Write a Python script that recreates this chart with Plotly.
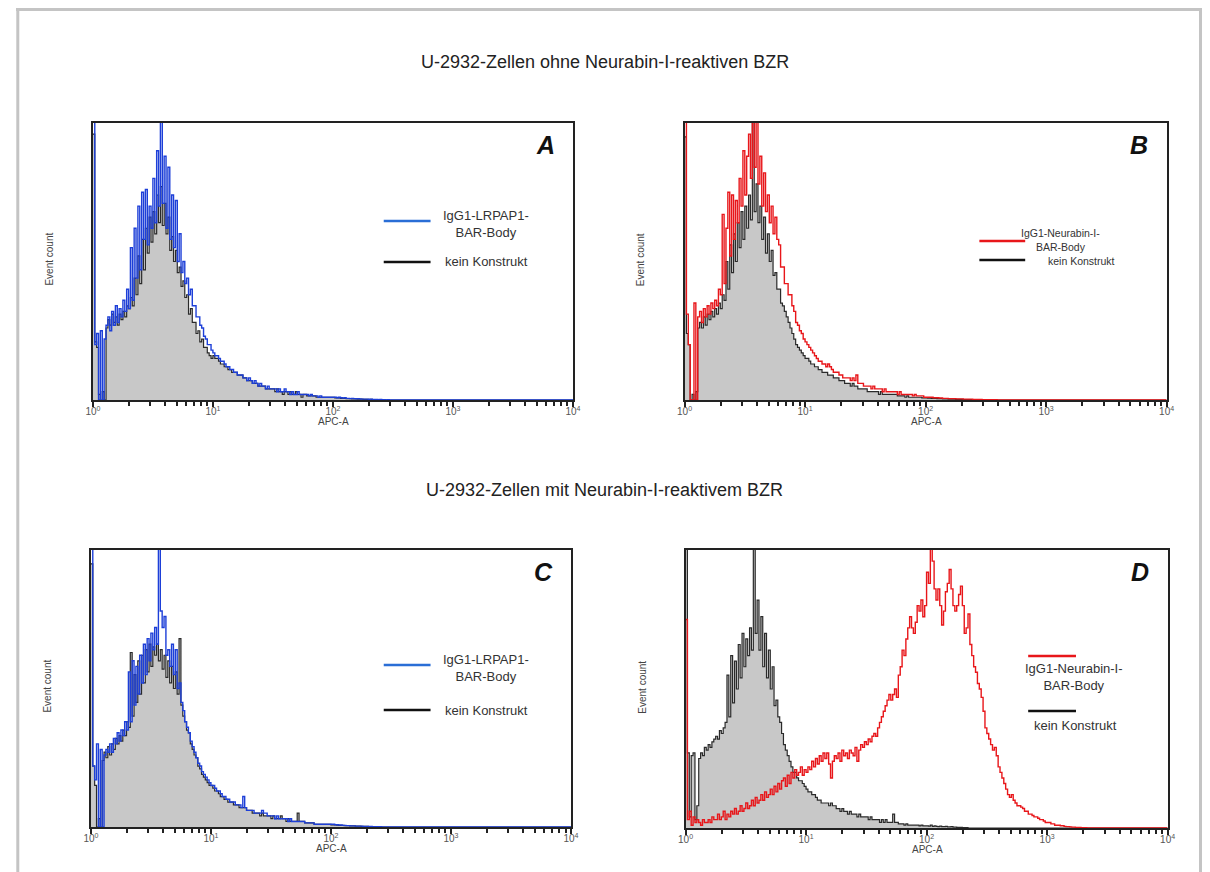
import numpy as np
import plotly.graph_objects as go

# counts per channel (64 channels per decade), in % of the panel height
a_ctrl = [96, 21, 19, 2, 0, 3, 0, 26, 29, 27, 31, 28, 30, 27, 31, 29,
          32, 30, 34, 33, 37, 34, 44, 38, 52, 42, 58, 47, 62, 53, 66, 57,
          68, 60, 74, 64, 77, 63, 71, 60, 66, 54, 59, 50, 54, 46, 48, 41,
          43, 37, 38, 31, 33, 28, 28, 24, 25, 21, 22, 19, 19, 17, 16, 15,
          16, 15, 15, 14, 13, 13, 12, 12, 11, 11, 10, 10, 10, 9, 9, 9,
          8, 8, 7, 7, 7, 6, 6, 6, 5, 5, 5, 5, 4, 4, 4, 4,
          4, 3, 4, 3, 3, 2, 3, 3, 2, 3, 2, 2, 3, 2, 2, 1,
          2, 2, 1.5, 1.5, 1.5, 1.5, 1.5, 1, 1, 1, 1, 1, 1, 1, 1, 1,
          1, 0.8, 0.8, 0.8, 0.6, 0.6, 0.6, 0.5, 0.5, 0.5, 0.4, 0.4, 0.4, 0.3, 0.3, 0.3,
          0.2, 0.2, 0.2, 0.2, 0.2, 0.1, 0.1, 0.1, 0.1, 0.1, 0.1, 0, 0, 0, 0, 0]
a_lrpap1 = [150, 20, 24, 0, 25, 0, 22, 27, 30, 25, 32, 27, 34, 28, 33, 30,
            36, 32, 40, 33, 55, 36, 62, 44, 70, 47, 75, 58, 76, 56, 70, 62,
            80, 64, 90, 70, 106, 71, 88, 62, 84, 58, 74, 55, 72, 50, 60, 46,
            50, 42, 44, 38, 40, 34, 34, 30, 30, 27, 26, 23, 22, 20, 20, 18,
            17, 16, 16, 15, 14, 14, 13, 12, 12, 11, 11, 10, 10, 9, 9, 9,
            8, 8, 7, 8, 7, 6, 7, 6, 5, 6, 5, 5, 4, 5, 4, 4,
            4, 4, 3, 4, 3, 3, 4, 3, 3, 2, 3, 2, 2, 3, 2, 2,
            2, 2, 2, 1.5, 2, 1.5, 1.5, 1.5, 1, 1.5, 1, 1, 1, 1, 1, 1,
            1, 1, 0.8, 1, 0.8, 0.7, 0.8, 0.6, 0.6, 0.5, 0.6, 0.5, 0.4, 0.5, 0.4, 0.3,
            0.3, 0.3, 0.3, 0.2, 0.3, 0.2, 0.2, 0.2, 0.1, 0.2, 0.1, 0.1, 0, 0.1, 0, 0]

b_ctrl = [95, 24, 20, 0, 2, 0, 3, 26, 28, 26, 30, 27, 31, 29, 32, 30,
          33, 31, 35, 33, 38, 36, 50, 40, 56, 46, 60, 50, 64, 55, 68, 58,
          70, 62, 74, 65, 102, 68, 78, 64, 70, 58, 66, 53, 60, 50, 54, 45,
          46, 40, 40, 35, 34, 32, 30, 28, 26, 24, 22, 20, 19, 18, 17, 16,
          15, 15, 14, 13, 13, 12, 12, 11, 11, 10, 10, 10, 9, 9, 9, 8,
          8, 8, 7, 7, 7, 6, 6, 6, 5, 6, 5, 5, 4, 4, 4, 4,
          4, 3, 3, 3, 3, 3, 3, 2, 3, 2, 2, 2, 2, 2, 2, 2,
          2, 1.5, 1.5, 1.5, 1.5, 1, 1.5, 1, 1, 1, 1, 1, 1, 1, 0.8, 0.8,
          0.8, 0.7, 0.7, 0.6, 0.6, 0.6, 0.5, 0.5, 0.5, 0.4, 0.4, 0.4, 0.3, 0.3, 0.3, 0.3,
          0.2, 0.2, 0.2, 0.2, 0.1, 0.1, 0.1, 0.1, 0.1, 0, 0, 0, 0, 0, 0, 0]
b_neurabin = [150, 31, 20, 0, 0, 35, 0, 30, 32, 28, 33, 30, 34, 31, 35, 33,
              36, 34, 40, 38, 67, 42, 62, 75, 52, 74, 58, 72, 64, 80, 70, 90,
              74, 88, 96, 80, 110, 84, 105, 78, 88, 70, 82, 68, 74, 64, 70, 60,
              66, 58, 56, 48, 48, 42, 42, 38, 38, 34, 32, 28, 27, 25, 24, 22,
              21, 20, 19, 18, 17, 16, 15, 14, 14, 13, 13, 12, 13, 12, 11, 10,
              10, 10, 9, 9, 8, 8, 8, 8, 7, 8, 7, 9, 6, 6, 6, 5,
              5, 5, 5, 4, 5, 4, 4, 4, 4, 3, 4, 3, 3, 3, 3, 3,
              3, 2, 3, 2, 2, 2, 2, 2, 2, 1.5, 2, 1.5, 1.5, 1.5, 1.5, 1,
              1, 1, 1, 1, 0.8, 0.8, 0.8, 0.7, 0.7, 0.6, 0.6, 0.6, 0.5, 0.5, 0.5, 0.5,
              0.4, 0.4, 0.4, 0.4, 0.3, 0.3, 0.3, 0.3, 0.3, 0.2, 0.2, 0.2, 0.2, 0.2, 0.1, 0.1,
              0.1, 0.1, 0.1, 0.1, 0.1, 0.1, 0, 0, 0, 0, 0, 0, 0, 0, 0, 0]

c_ctrl = [95, 22, 15, 0, 3, 0, 24, 27, 25, 29, 26, 30, 28, 32, 30, 33,
          31, 35, 33, 38, 36, 63, 40, 55, 45, 60, 48, 62, 52, 64, 56, 66,
          58, 65, 62, 66, 60, 64, 57, 62, 54, 60, 52, 58, 50, 56, 48, 68,
          44, 40, 38, 35, 34, 30, 28, 26, 25, 22, 21, 19, 18, 17, 16, 15,
          15, 14, 13, 13, 12, 11, 11, 10, 10, 9, 9, 9, 8, 8, 8, 7,
          7, 7, 7, 6, 6, 6, 5, 5, 5, 5, 4, 5, 4, 4, 4, 4,
          3, 4, 3, 3, 3, 4, 3, 3, 2, 3, 2, 2, 2, 2, 5, 2,
          2, 2, 1.5, 1.5, 1.5, 1.5, 1.5, 1, 1, 1, 1, 1, 1, 1, 1, 1,
          0.8, 0.8, 0.8, 0.7, 0.6, 0.6, 0.6, 0.5, 0.5, 0.5, 0.4, 0.4, 0.4, 0.3, 0.3, 0.3,
          0.2, 0.2, 0.2, 0.2, 0.1, 0.1, 0.1, 0.1, 0.1, 0, 0, 0, 0, 0, 0, 0]
c_lrpap1 = [150, 22, 17, 30, 0, 28, 0, 26, 28, 27, 30, 27, 32, 30, 34, 31,
            35, 33, 38, 35, 56, 38, 60, 44, 58, 48, 62, 52, 66, 55, 68, 60,
            70, 64, 72, 66, 106, 78, 72, 76, 62, 64, 58, 66, 55, 64, 50, 52,
            45, 42, 38, 36, 34, 31, 29, 27, 25, 23, 22, 20, 19, 18, 17, 16,
            15, 15, 14, 13, 13, 12, 11, 11, 10, 10, 9, 9, 9, 8, 8, 8,
            7, 11, 7, 6, 6, 6, 6, 5, 5, 5, 5, 6, 5, 5, 4, 4,
            4, 4, 3, 4, 3, 3, 3, 3, 3, 2, 3, 2, 2, 2, 2, 2,
            2, 2, 1.5, 1.5, 1.5, 1.5, 1.5, 1, 1, 1, 1, 1, 1, 1, 1, 1,
            1, 1, 0.8, 0.8, 0.7, 0.7, 0.6, 0.6, 0.5, 0.5, 0.4, 0.4, 0.4, 0.3, 0.3, 0.3,
            0.3, 0.2, 0.2, 0.2, 0.2, 0.2, 0.1, 0.1, 0.1, 0.1, 0.1, 0, 0, 0, 0, 0]

d_ctrl = [150, 27, 4, 26, 27, 3, 8, 25, 27, 26, 29, 28, 30, 29, 31, 32,
          33, 32, 35, 34, 36, 38, 55, 40, 62, 45, 60, 50, 66, 54, 70, 58,
          68, 62, 72, 64, 110, 70, 82, 64, 76, 58, 70, 54, 64, 50, 58, 44,
          46, 40, 38, 34, 30, 28, 26, 24, 22, 20, 20, 18, 17, 17, 16, 15,
          14, 13, 13, 12, 12, 11, 10, 10, 9, 9, 9, 9, 8, 9, 8, 8,
          7, 7, 6, 7, 6, 6, 5, 6, 5, 5, 5, 4, 5, 4, 4, 4,
          4, 3, 4, 3, 3, 3, 3, 2, 3, 2, 3, 2, 2, 2, 5, 2,
          2, 1.5, 1.5, 1.5, 1, 1.5, 1, 1, 1, 1, 1, 1, 0.8, 1, 0.8, 0.8,
          0.8, 0.7, 1, 0.6, 0.8, 0.6, 0.5, 0.7, 0.5, 0.5, 0.6, 0.4, 0.4, 0.5, 0.3, 0.3,
          0.2, 0.2, 0.2, 0.1, 0.1, 0.1, 0, 0, 0, 0, 0, 0, 0, 0, 0, 0]
d_neurabin = [75, 3, 6, 1, 4, 2, 3, 2, 1, 3, 2, 2, 3, 2, 4, 3,
              3, 5, 3, 4, 6, 3, 5, 4, 6, 5, 7, 5, 6, 8, 6, 7,
              9, 7, 8, 10, 8, 11, 9, 10, 12, 10, 13, 11, 12, 14, 12, 15,
              13, 16, 14, 17, 18, 15, 19, 16, 20, 18, 21, 19, 20, 22, 19, 21,
              20, 22, 21, 24, 22, 25, 23, 26, 24, 27, 25, 27, 23, 18, 24, 26,
              25, 27, 24, 28, 26, 27, 25, 28, 27, 26, 29, 24, 28, 30, 29, 31,
              30, 32, 31, 33, 34, 33, 36, 38, 40, 42, 44, 46, 48, 46, 48, 50,
              47, 55, 58, 64, 62, 68, 72, 76, 72, 70, 74, 80, 78, 82, 76, 80,
              92, 88, 110, 96, 86, 82, 86, 80, 73, 78, 85, 88, 93, 86, 80, 78,
              80, 84, 87, 80, 70, 72, 77, 66, 62, 58, 56, 52, 50, 47, 42, 36,
              34, 32, 30, 28, 29, 26, 22, 20, 18, 16, 14, 12, 11, 12, 10, 9,
              8, 8, 7.5, 7, 6, 6, 5, 5, 4.5, 4, 4, 3.5, 3, 3, 2.5, 2,
              2, 2, 1.5, 1.5, 1, 1, 1, 0.8, 0.8, 0.6, 0.5, 0.5, 0.4, 0.3, 0.3, 0.2,
              0.2, 0.2, 0.1, 0.1, 0.1, 0]

n_channels = 257
channels = np.arange(n_channels)
apc = 10 ** (channels / 64)

def pad(vals):
    return vals + [0] * (n_channels - len(vals))

W, H = 1210, 872
# the page puts the figure a bit in from the corner; map wanted screen px to paper
X_OFF, X_SCALE, Y_OFF = 13.8, 0.9907, 8
def px(x):
    return (x - X_OFF) / X_SCALE / W
def py(y):
    return 1 - (y - Y_OFF) / H

BLUE = '#1d3fd8'
RED = '#e8161a'
BLACK = '#2a2a2a'
GREY = '#c8c8c8'
FONT = 'Liberation Sans, Arial, sans-serif'

# panel boxes in pixels: left, right, top, bottom
# legend: line x0, x1, line y (test), line y (ctrl), text x, label y, kein y, font size
panels = [
    dict(name='A', box=(91, 573, 123, 400), ctrl=a_ctrl, test=a_lrpap1, color=BLUE,
         label='IgG1-LRPAP1-<br>BAR-Body', leg=(383, 430, 221, 262, 486, 224, 262, 13)),
    dict(name='B', box=(685, 1169, 123, 400), ctrl=b_ctrl, test=b_neurabin, color=RED,
         label='IgG1-Neurabin-I-<br>BAR-Body', leg=(981, 1027, 241, 260, 1062, 240, 261, 10.5)),
    dict(name='C', box=(89, 571, 550, 827), ctrl=c_ctrl, test=c_lrpap1, color=BLUE,
         label='IgG1-LRPAP1-<br>BAR-Body', leg=(383, 430, 665, 710, 486, 668, 710, 13)),
    dict(name='D', box=(686, 1170, 550, 828), ctrl=d_ctrl, test=d_neurabin, color=RED,
         label='IgG1-Neurabin-I-<br>BAR-Body', leg=(1030, 1078, 656, 711, 1076, 677, 725, 13)),
]

fig = go.Figure()
annotations = []
shapes = []
minor_vals = [m * 10 ** k for k in range(4) for m in range(2, 10)]

def note(x, y, text, size, color='#333', **kw):
    annotations.append(dict(x=px(x), y=py(y), xref='paper', yref='paper', text=text,
                            showarrow=False, xanchor='center', yanchor='middle',
                            font=dict(size=size, color=color, family=FONT), **kw))

for i, p in enumerate(panels):
    n = '' if i == 0 else str(i + 1)
    xa, ya = 'x' + n, 'y' + n
    left, right, top, bottom = p['box']
    ctrl = pad(p['ctrl'])
    test = pad(p['test'])
    fig.add_trace(go.Scatter(x=apc, y=ctrl, xaxis=xa, yaxis=ya, mode='lines', line_shape='hv',
                             fill='tozeroy', fillcolor=GREY, line=dict(color=BLACK, width=1.2),
                             showlegend=False, hoverinfo='skip'))
    fig.add_trace(go.Scatter(x=apc, y=test, xaxis=xa, yaxis=ya, mode='lines', line_shape='hv',
                             line=dict(color=p['color'], width=1.4),
                             showlegend=False, hoverinfo='skip'))

    fig.update_layout(**{
        'xaxis' + n: dict(type='log', range=[0, 4], domain=[px(left), px(right)], anchor=ya,
                          showgrid=False, zeroline=False, showline=True, mirror=True,
                          linecolor='#222', linewidth=1.6, ticks='outside', ticklen=5,
                          tickwidth=1.5, tickcolor='#222', ticklabelstandoff=-4,
                          tickvals=[1, 10, 100, 1000, 10000],
                          ticktext=['10<sup>0</sup>', '10<sup>1</sup>', '10<sup>2</sup>',
                                    '10<sup>3</sup>', '10<sup>4</sup>'],
                          tickfont=dict(size=10, color='#555', family=FONT),
                          minor=dict(tickvals=minor_vals, ticks='outside', ticklen=4,
                                     tickwidth=1.5, tickcolor='#222')),
        'yaxis' + n: dict(range=[0, 100], domain=[py(bottom), py(top)], anchor=xa,
                          showgrid=False, zeroline=False, showline=True, mirror=True,
                          linecolor='#222', linewidth=1.6, showticklabels=False, ticks=''),
    })

    note(right - 28, top + 22, '<b><i>' + p['name'] + '</i></b>', 25, '#111')
    note((left + right) / 2 + 0.5, bottom + 21, 'APC-A', 10, '#444')
    note(left - 44, (top + bottom) / 2 - 2, 'Event count', 10, '#444', textangle=-90)

    # legend drawn by hand
    lx0, lx1, ly1, ly2, tx, ty1, ty2, fs = p['leg']
    legc = '#2a6ed6' if p['color'] == BLUE else RED
    shapes.append(dict(type='line', xref='paper', yref='paper', x0=px(lx0), x1=px(lx1),
                       y0=py(ly1), y1=py(ly1), line=dict(color=legc, width=2.5)))
    shapes.append(dict(type='line', xref='paper', yref='paper', x0=px(lx0), x1=px(lx1),
                       y0=py(ly2), y1=py(ly2), line=dict(color='#111', width=2.5)))
    note(tx, ty1, p['label'], fs, align='center')
    note(tx + {'B': 22, 'D': 2}.get(p['name'], 0), ty2, 'kein Konstrukt', fs)

# row headings
note(605, 62, 'U-2932-Zellen ohne Neurabin-I-reaktiven BZR', 18, '#222')
note(605, 490, 'U-2932-Zellen mit Neurabin-I-reaktivem BZR', 18, '#222')

# grey frame around the figure
frame = '#c4c4c4'
shapes.append(dict(type='line', xref='paper', yref='paper', x0=0.0015, x1=0.0015, y0=py(8), y1=py(880),
                   line=dict(color=frame, width=3)))
shapes.append(dict(type='line', xref='paper', yref='paper', x0=0, x1=px(1204), y0=py(9.5), y1=py(9.5),
                   line=dict(color=frame, width=3)))
shapes.append(dict(type='line', xref='paper', yref='paper', x0=px(1203), x1=px(1203), y0=py(8), y1=py(880),
                   line=dict(color=frame, width=3)))

fig.update_layout(width=W, height=H, margin=dict(l=0, r=0, t=0, b=0),
                  paper_bgcolor='white', plot_bgcolor='white',
                  annotations=annotations, shapes=shapes, showlegend=False)

fig.write_html("out.html")
